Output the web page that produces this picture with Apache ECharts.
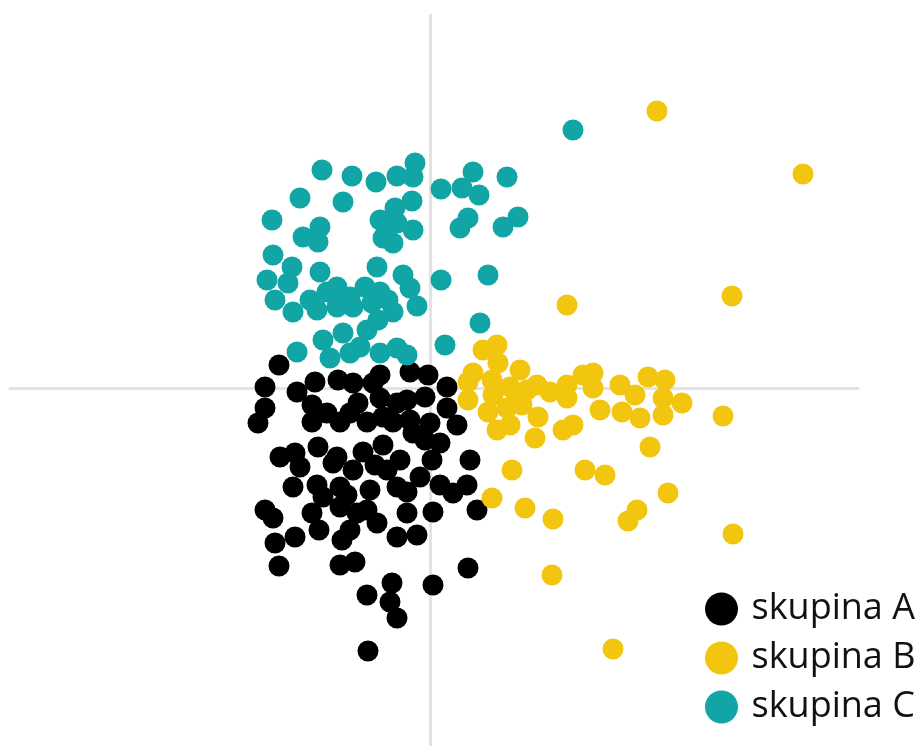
<!DOCTYPE html>
<html>
<head>
<meta charset="utf-8">
<script src="https://cdn.jsdelivr.net/npm/echarts@6/dist/echarts.min.js"></script>
<style>
html,body{margin:0;padding:0;background:#fff;}
#chart{width:922px;height:746px;}
</style>
</head>
<body>
<div id="chart"></div>
<script>
const seriesNames = ['skupina A', 'skupina B', 'skupina C'];

const groupA = [
[-151,23],[-165,1],[-133,-4],[-115,6],[-92,8],[-77,5],[-50,13],[-57,5],[-20,16],[-2,13],[17,1],
[-165,-20],[-172,-35],[-118,-17],[-118,-34],[-103,-25],[-90,-34],[-80,-25],[-72,-15],[-63,-34],
[-50,-10],[-47,-29],[-33,-15],[-37,-34],[-23,-12],[-5,-9],[-20,-32],[-17,-45],[0,-35],[17,-20],
[27,-37],[10,-55],[-5,-52],[-112,-59],[-150,-69],[-135,-65],[-130,-79],[-93,-69],[-97,-75],
[-67,-64],[-47,-57],[-77,-82],[-55,-77],[-43,-82],[-30,-72],[-10,-89],[2,-72],[40,-72],
[-137,-99],[-113,-97],[-107,-109],[-90,-99],[-83,-107],[-60,-102],[-33,-99],[-23,-104],[10,-97],
[23,-105],[37,-97],[-165,-122],[-157,-130],[-118,-125],[-90,-119],[-73,-125],[-63,-122],[-53,-135],
[-23,-125],[3,-124],[47,-122],[-155,-155],[-135,-149],[-111,-142],[-88,-152],[-80,-142],[-33,-149],
[-13,-147],[-151,-178],[-90,-177],[-75,-174],[-38,-195],[-63,-207],[-40,-214],[-33,-230],[3,-197],
[38,-180],[-62,-263]
];

const groupB = [
[53,38],[67,43],[68,25],[43,15],[38,6],[62,8],[90,18],[38,-12],[63,-7],[80,1],[87,-9],[107,3],
[120,-4],[137,3],[137,-10],[153,13],[163,15],[163,0],[190,3],[205,-7],[218,11],[235,8],[233,-10],
[252,-15],[233,-27],[210,-30],[192,-24],[170,-22],[58,-24],[77,-20],[92,-17],[108,-29],[67,-42],
[80,-37],[105,-50],[133,-42],[143,-37],[220,-59],[82,-82],[155,-82],[175,-87],[238,-105],[62,-110],
[95,-120],[123,-131],[207,-122],[198,-133],[227,277],[373,214],[302,92],[137,83],[293,-28],
[303,-146],[122,-187],[183,-261],[97,-2]
];

const groupC = [
[-108,218],[-78,212],[-54,206],[-33,212],[-17,211],[-15,225],[-130,190],[-87,186],[-18,187],[-35,180],
[-158,168],[-50,168],[-33,165],[-17,158],[-47,150],[-37,145],[-42,161],[-110,161],[-127,151],[-112,146],
[-157,133],[-138,121],[-163,108],[-142,105],[-110,116],[-53,121],[-27,113],[-20,100],[-13,82],[-155,88],
[-137,76],[-120,88],[-103,96],[-93,101],[-80,91],[-65,101],[-50,96],[-42,88],[-37,76],[-58,85],[-77,81],
[-93,81],[-113,78],[-87,55],[-107,48],[-133,36],[-63,58],[-52,68],[-70,41],[-50,35],[-33,40],[-23,33],
[-100,30],[-80,35],[43,216],[77,211],[11,199],[32,200],[49,193],[38,170],[30,160],[88,171],[73,161],
[11,108],[58,113],[50,65],[15,43],[143,258]
];

const colors = ['#000000', '#F2C50F', '#11A5A5'];

const chart = echarts.init(document.getElementById('chart'));
const axisCommon = {
  type: 'value',
  axisLine: { show: true, onZero: true, lineStyle: { color: '#e3e3e3', width: 3 } },
  axisTick: { show: false },
  axisLabel: { show: false },
  splitLine: { show: false }
};
chart.setOption({
  animation: false,
  backgroundColor: '#ffffff',
  color: colors,
  grid: { left: 10, right: 64, top: 15, bottom: 0, containLabel: false },
  xAxis: Object.assign({ min: -420, max: 428 }, axisCommon),
  yAxis: Object.assign({ min: -358, max: 373 }, axisCommon),
  legend: {
    orient: 'vertical',
    left: 700,
    top: 586,
    icon: 'circle',
    itemWidth: 50,
    itemHeight: 33,
    itemGap: 13,
    textStyle: { fontFamily: 'Open Sans', fontSize: 36, color: '#111', lineHeight: 33 },
    data: seriesNames
  },
  series: [groupA, groupB, groupC].map((d, i) => ({
    name: seriesNames[i],
    type: 'scatter',
    symbol: 'circle',
    symbolSize: 21,
    data: d,
    itemStyle: { color: colors[i], opacity: 1 }
  }))
});
</script>
</body>
</html>
